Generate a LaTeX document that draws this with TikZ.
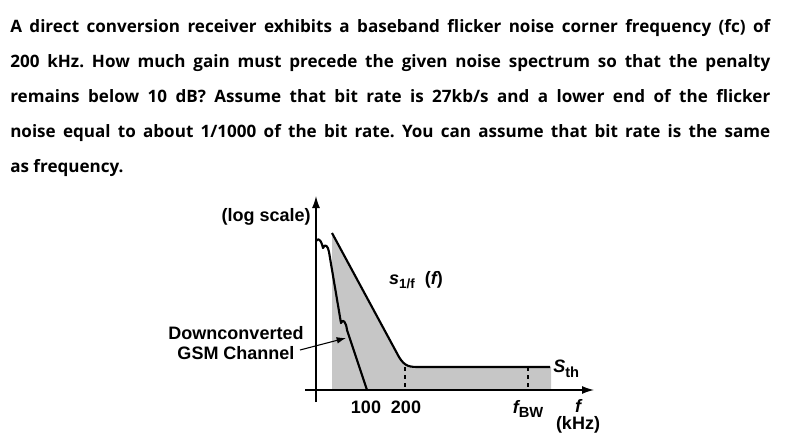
\documentclass[tikz,border=0pt]{standalone}
\usepackage{fontspec}
\setmainfont{Open Sans}
\newfontfamily\arial{Liberation Sans}
\usetikzlibrary{arrows.meta}
\frenchspacing
\begin{document}
\begin{tikzpicture}[x=0.75pt,y=-0.75pt,
  lab/.style={font=\arial\bfseries\fontsize{13.5}{15.5}\selectfont, inner sep=0pt},
  curve/.style={line width=1.6pt, line join=round},
  axis/.style={line width=1pt,-{Latex[length=9pt,width=6pt]}}]
\useasboundingbox (0,0) rectangle (797,443);
\node[anchor=north west, inner sep=0pt, text width=760*0.75pt, align=justify,
  font=\bfseries\fontsize{12.8}{26.3}\selectfont] (q) at (10,19)
 {A direct conversion receiver exhibits a baseband flicker noise corner frequency (fc) of\linebreak
 200 kHz. How much gain must precede the given noise spectrum so that the penalty\linebreak
 remains below 10 dB? Assume that bit rate is 27kb/s and a lower end of the flicker\linebreak
 noise equal to about 1/1000 of the bit rate. You can assume that bit rate is the same\linebreak
 as frequency.\par};
% gray fill
\fill[gray!45] (332,390) -- (332,233) -- (399,357) .. controls (405,367) and (410,367) .. (420,367) -- (551,367) -- (551,390) -- cycle;
% axes
\draw[axis] (316,402) -- (316,196);
\draw[axis] (305,390) -- (594,390);
% dashed
\draw[dashed, line width=0.8pt] (405,367) -- (405,390);
\draw[dashed, line width=0.8pt] (528,367) -- (528,390);
% S curve
\draw[curve] (332,233) -- (399,357) .. controls (405,367) and (410,367) .. (420,367) -- (550,367);
% GSM curve
\draw[curve] (316,241) .. controls (320,236) and (322,244) .. (323,248) .. controls (325,243) and (328,246) .. (329,252) -- (341,323) .. controls (343,318) and (346,322) .. (347,330) -- (367,390);
% labels
\node[lab, anchor=east] (ls) at (311,217) {(log scale)};
\node[lab] (s1f) at (416,280) {\itshape s\upshape\raisebox{-0.5ex}{\fontsize{10}{11}\selectfont 1/f}\ \ (\itshape f\upshape)};
\node[lab, align=center] (gsm) at (236,343) {Downconverted\\GSM Channel};
\coordinate (gsmtip) at (346,338);
\draw[line width=0.8pt,-{Latex[length=7pt,width=5pt]}] (300,350) -- (gsmtip);
\node[lab, anchor=west] (sth) at (553,369) {\itshape S\upshape\raisebox{-0.5ex}{\fontsize{11}{12}\selectfont th}};
\node[lab] (l100) at (366,407) {100};
\node[lab] (l200) at (406,407) {200};
\node[lab] (fbw) at (528,409) {\itshape f\upshape\raisebox{-0.5ex}{\fontsize{11}{12}\selectfont BW}};
\node[lab] (fl) at (578,406) {\itshape f};
\node[lab] (khz) at (578,425) {(kHz)};
\end{tikzpicture}
\end{document}
